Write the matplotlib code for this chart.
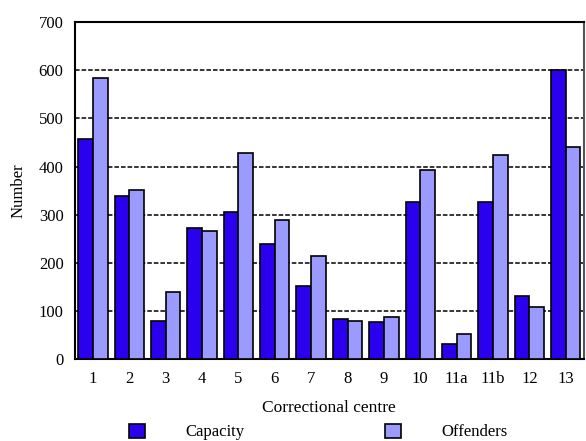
import matplotlib
matplotlib.use("Agg")
import matplotlib.pyplot as plt
import numpy as np

centres = ["1", "2", "3", "4", "5", "6", "7", "8", "9", "10", "11a", "11b", "12", "13"]
capacity = [457, 339, 80, 273, 306, 239, 152, 84, 77, 326, 32, 326, 131, 600]
offenders = [584, 351, 140, 266, 429, 290, 214, 80, 88, 394, 52, 425, 108, 441]
y_ticks = [0, 100, 200, 300, 400, 500, 600, 700]

cap_color = "#2a00ee"
off_color = "#9a9aff"

plt.rcParams["font.family"] = ["Liberation Serif", "DejaVu Serif"]

fig = plt.figure(figsize=(5.86, 4.41), dpi=100)
ax = fig.add_axes([0.1275, 0.185, 0.869, 0.765])

x = np.arange(len(centres))
w = 0.404
b1 = ax.bar(x - w / 2, capacity, width=w, color=cap_color, edgecolor="black",
            linewidth=1.2, label="Capacity", zorder=3)
b2 = ax.bar(x + w / 2, offenders, width=w, color=off_color, edgecolor="black",
            linewidth=1.2, label="Offenders", zorder=3)

ax.set_xlim(-0.5, len(centres) - 0.5)
ax.set_ylim(0, 700)
ax.set_yticks(y_ticks)
ax.set_xticks(x)
ax.set_xticklabels(centres)
ax.tick_params(axis="both", length=0, labelsize=12)
ax.tick_params(axis="y", pad=8)
ax.tick_params(axis="x", pad=8)

for yv in y_ticks[1:-1]:
    ax.axhline(yv, color="black", linewidth=1.1, linestyle=(0, (3, 1.3)), zorder=1)

for side in ["left", "bottom", "top"]:
    ax.spines[side].set_linewidth(1.5)
    ax.spines[side].set_color("black")
ax.spines["right"].set_linewidth(1.5)
ax.spines["right"].set_color("#555555")

ax.set_xlabel("Correctional centre", fontsize=12.5, labelpad=10)
ax.set_ylabel("Number", fontsize=12, labelpad=9)

fig.legend(handles=[b1, b2], loc="center left",
           bbox_to_anchor=(129 / 586, 1 - 432 / 441),
           frameon=False, ncol=2, fontsize=12, borderpad=0, borderaxespad=0,
           handlelength=0.96, handleheight=0.96, handletextpad=2.45,
           columnspacing=8.4)

fig.savefig("out.png", dpi=100)
